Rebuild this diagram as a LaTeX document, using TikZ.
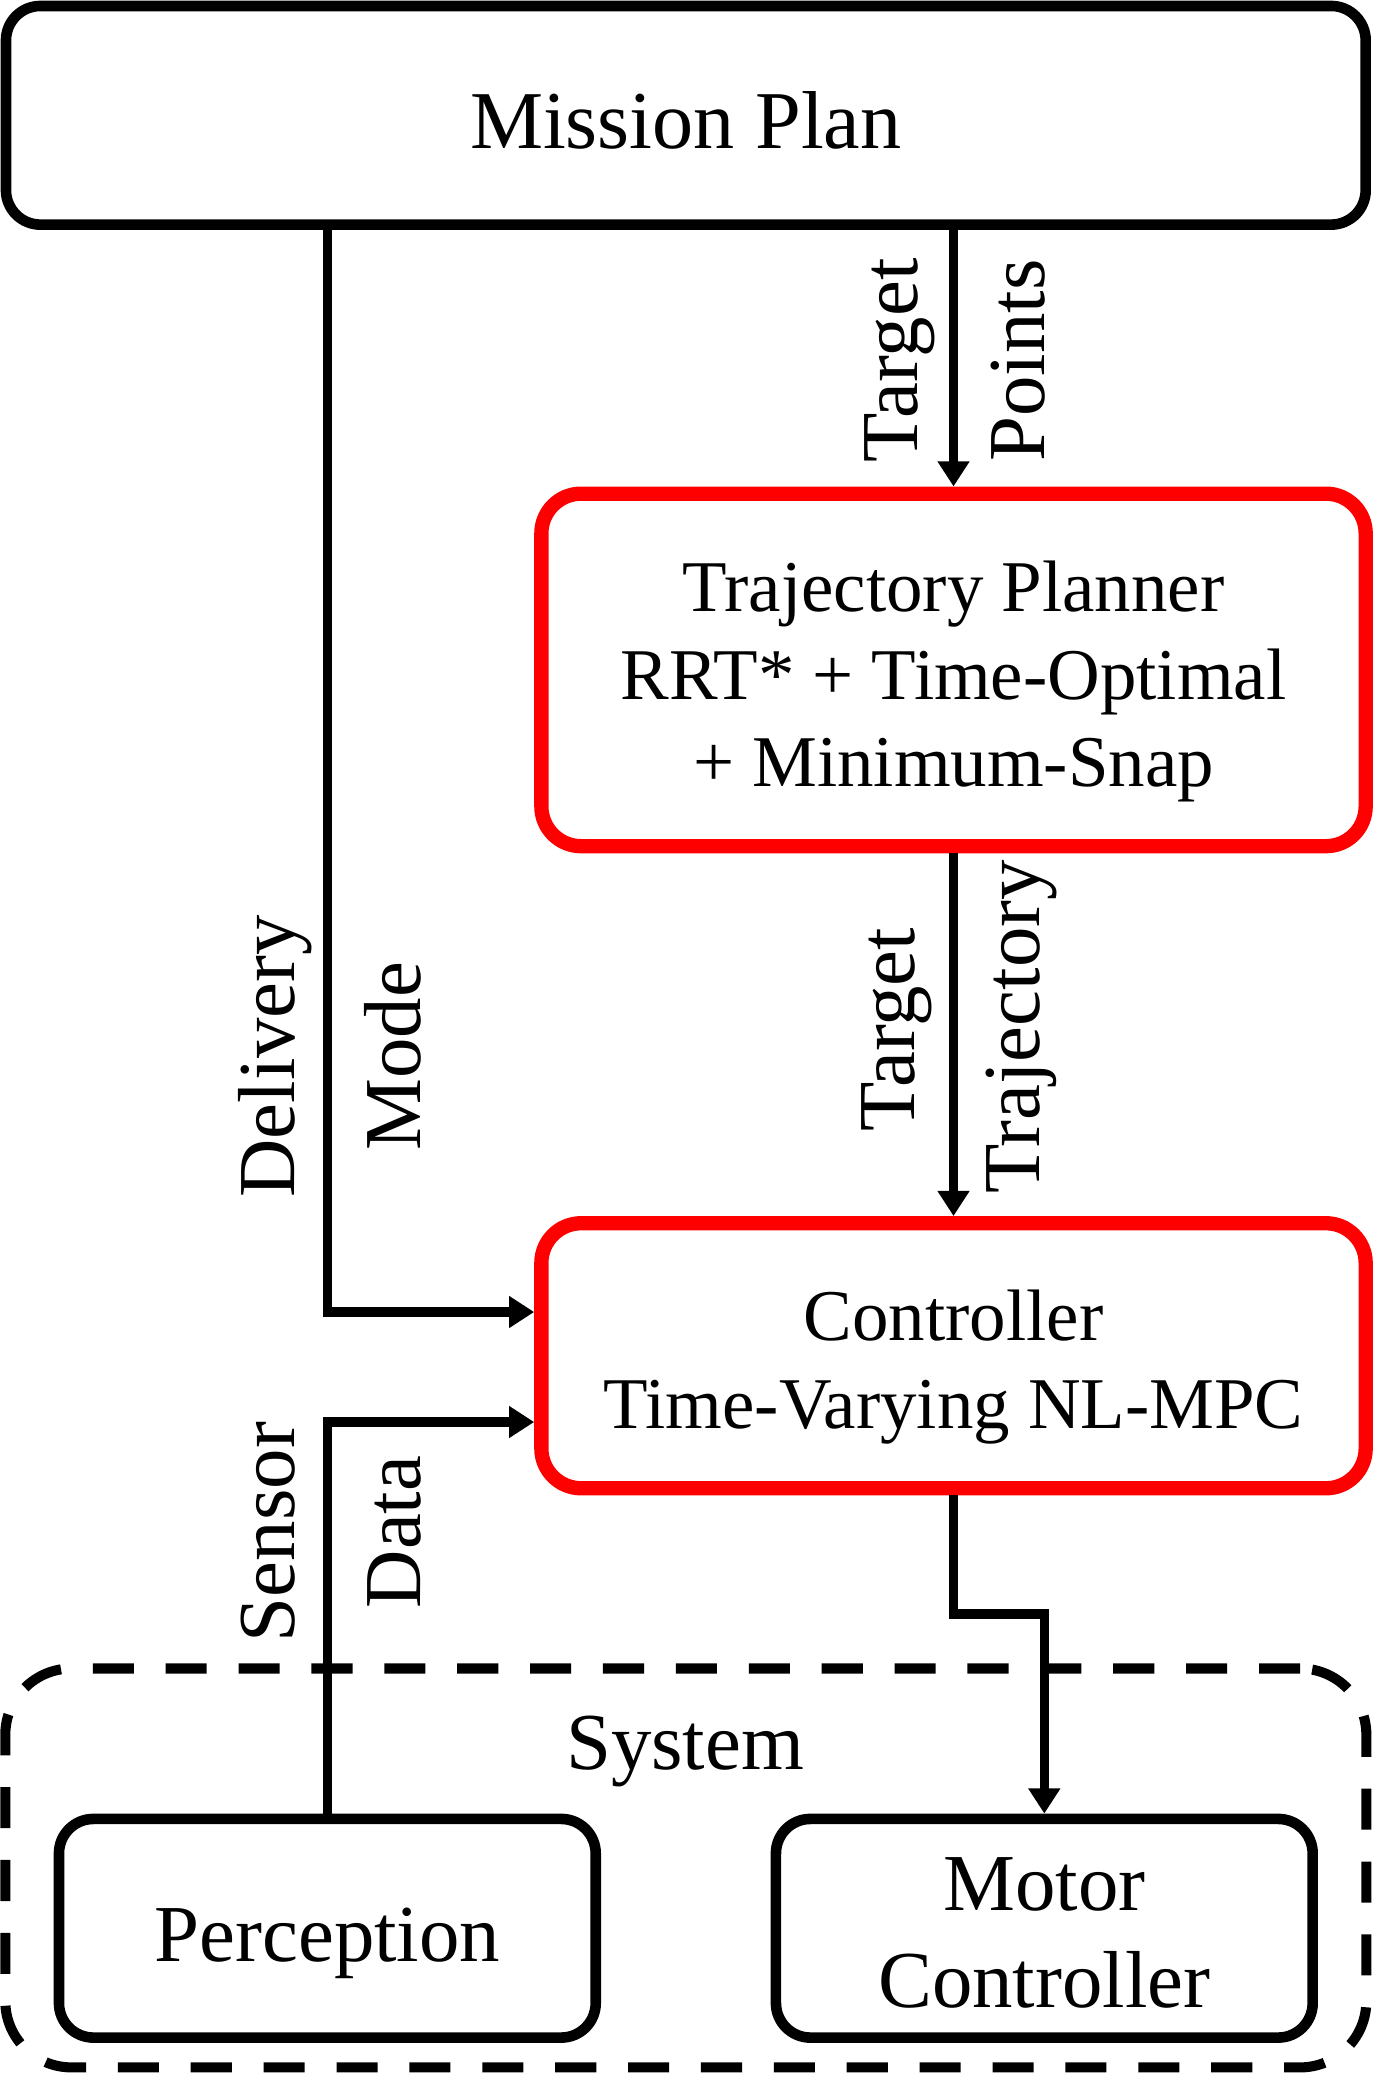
\documentclass[tikz,border=0pt]{standalone}
\usepackage{fontspec}
\setmainfont{Liberation Serif}
\usetikzlibrary{arrows.meta,calc}
\definecolor{boxred}{RGB}{255,0,0}
\begin{document}
\begin{tikzpicture}[x=0.5pt,y=-0.5pt,
  blk/.style={draw=black,line width=4pt,rounded corners=13pt,align=center,inner sep=0pt,fill=white,font=\fontsize{30.5}{36.5}\selectfont},
  redblk/.style={draw=boxred,line width=5.4pt,rounded corners=15pt,align=center,inner sep=0pt,fill=white,font=\fontsize{27.5}{33}\selectfont,minimum width=311pt},
  arr/.style={line width=3.6pt,-{Triangle[length=9.5pt,width=11.5pt]}},
  lbl/.style={font=\fontsize{30.5}{36}\selectfont,inner sep=0pt,anchor=base,rotate=90}]
\useasboundingbox (0,0) rectangle (1037,1568);
% system container
\node[draw=black,line width=3.8pt,dash pattern=on 15.5pt off 12pt,rounded corners=25pt,minimum width=513.5pt,minimum height=150.5pt,inner sep=0pt] (sys) at (517.5,1409.5) {};
\node[font=\fontsize{30.5}{36}\selectfont,inner sep=0pt,anchor=base] (systxt) at (517,1335) {System};
% blocks
\node[blk,minimum width=513pt,minimum height=82.5pt,font=\fontsize{31}{37}\selectfont,text height=25pt,text depth=0pt] (mission) at (517.5,87) {Mission Plan};
\node[redblk,minimum height=133pt,text height=93.8pt] (traj) at (719.5,505.5) {Trajectory Planner\\RRT* + Time-Optimal\\+ Minimum-Snap};
\node[redblk,minimum height=100pt,text height=60.8pt] (ctrl) at (719.5,1023) {Controller\\Time-Varying NL-MPC};
\node[blk,minimum width=202.5pt,minimum height=82.5pt,text height=25pt,text depth=0pt] (perc) at (247,1455) {Perception};
\node[blk,minimum width=202.5pt,minimum height=82.5pt,text height=60.2pt] (motor) at (788,1455) {Motor\\Controller};
% connectors
\draw[arr] (mission.south -| traj.north) -- (traj.north);
\draw[arr] (traj.south) -- (ctrl.north);
\draw[arr] (mission.south -| perc.north) |- ($(ctrl.west)+(0,-33)$);
\draw[arr] (perc.north) |- ($(ctrl.west)+(0,50)$);
\coordinate (bend) at (718,1218);
\draw[arr] (ctrl.south) -- (ctrl.south |- bend) -| (motor.north);
% labels
\node[lbl] (l1) at (692,272) {Target};
\node[lbl] (l2) at (788,272) {Points};
\node[lbl] (l3) at (690,777) {Target};
\node[lbl] (l4) at (784,775) {Trajectory};
\node[lbl] (l5) at (222,797) {Delivery};
\node[lbl] (l6) at (317,797) {Mode};
\node[lbl] (l7) at (222,1156) {Sensor};
\node[lbl] (l8) at (317,1156) {Data};
\end{tikzpicture}
\end{document}
